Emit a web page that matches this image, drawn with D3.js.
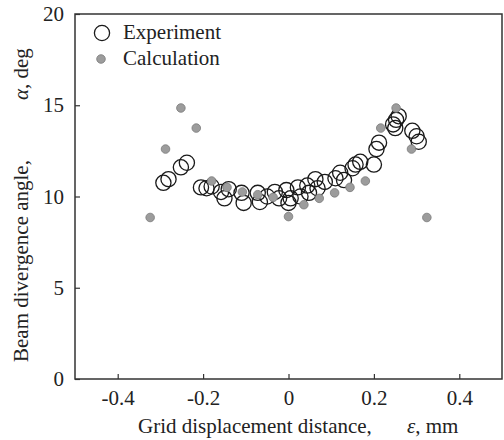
<!DOCTYPE html>
<html>
<head>
<meta charset="utf-8">
<script src="https://cdn.jsdelivr.net/npm/d3@7"></script>
<style>
  html, body { margin: 0; padding: 0; background: #fff; }
  svg { display: block; }
</style>
</head>
<body>
<svg id="chart" width="504" height="440"></svg>
<script>
// Measured beam divergence (open circles): [displacement mm, angle deg]
const experiment = [
  [-0.293, 10.75], [-0.281, 10.95], [-0.252, 11.6], [-0.238, 11.85],
  [-0.205, 10.5], [-0.192, 10.45], [-0.180, 10.55],
  [-0.158, 10.25], [-0.150, 9.9], [-0.140, 10.4],
  [-0.110, 10.2], [-0.105, 9.65],
  [-0.072, 10.2], [-0.067, 9.7], [-0.050, 10.0],
  [-0.032, 10.25], [-0.022, 9.9],
  [-0.005, 10.35], [0.000, 9.65], [0.005, 9.9],
  [0.022, 10.5], [0.028, 10.0],
  [0.044, 10.6], [0.048, 10.2],
  [0.063, 10.95], [0.068, 10.45], [0.085, 10.8],
  [0.110, 11.0], [0.121, 11.3], [0.130, 10.9],
  [0.150, 11.55], [0.157, 11.75], [0.168, 11.9],
  [0.200, 11.75], [0.206, 12.6], [0.212, 12.95],
  [0.245, 13.95], [0.252, 14.2], [0.258, 14.4], [0.250, 13.75],
  [0.290, 13.6], [0.300, 13.3], [0.305, 13.0]
];

// Computed divergence (grey dots)
const calculation = [
  [-0.324, 8.85], [-0.288, 12.6], [-0.252, 14.85], [-0.216, 13.75],
  [-0.180, 10.85], [-0.144, 10.5], [-0.108, 10.25], [-0.072, 10.1],
  [-0.036, 9.95], [0.000, 8.9], [0.036, 9.55], [0.072, 9.9],
  [0.108, 10.2], [0.144, 10.5], [0.180, 10.85], [0.216, 13.75],
  [0.252, 14.85], [0.288, 12.6], [0.324, 8.85]
];

const xTicks = [-0.4, -0.2, 0, 0.2, 0.4];
const yTicks = [0, 5, 10, 15, 20];
const legendLabels = ["Experiment", "Calculation"];

const svg = d3.select("#chart");
const plotLeft = 75, plotRight = 502, plotTop = 14, plotBottom = 379;
const serif = '"Liberation Serif", "Times New Roman", serif';
const fs = 21;

const x = d3.scaleLinear().domain([-0.5, 0.5]).range([plotLeft, plotRight]);
const y = d3.scaleLinear().domain([0, 20]).range([plotBottom, plotTop]);

// frame
svg.append("rect")
  .attr("x", plotLeft).attr("y", plotTop)
  .attr("width", plotRight - plotLeft).attr("height", plotBottom - plotTop)
  .attr("fill", "none").attr("stroke", "#333").attr("stroke-width", 1.5);

// axes with inward ticks
const xAxis = svg.append("g").attr("transform", `translate(0,${plotBottom})`)
  .call(d3.axisBottom(x).tickValues(xTicks).tickSizeInner(-5).tickSizeOuter(0)
    .tickPadding(11).tickFormat(d => d === 0 ? "0" : d.toFixed(1)));
const yAxis = svg.append("g").attr("transform", `translate(${plotLeft},0)`)
  .call(d3.axisLeft(y).tickValues(yTicks).tickSizeInner(-5).tickSizeOuter(0)
    .tickPadding(11).tickFormat(d => String(d)));

[xAxis, yAxis].forEach(a => {
  a.select(".domain").remove();
  a.selectAll(".tick line").attr("stroke", "#333").attr("stroke-width", 1.2);
  a.selectAll(".tick text").style("font-size", fs + "px")
    .style("font-family", serif).attr("fill", "#222");
});

// data marks
svg.append("g").selectAll("circle").data(experiment).join("circle")
  .attr("cx", d => x(d[0])).attr("cy", d => y(d[1])).attr("r", 7.6)
  .attr("fill", "none").attr("stroke", "#1a1a1a").attr("stroke-width", 1.3);

svg.append("g").selectAll("circle").data(calculation).join("circle")
  .attr("cx", d => x(d[0])).attr("cy", d => y(d[1])).attr("r", 4.3)
  .attr("fill", "#9c9c9c").attr("stroke", "#7a7a7a").attr("stroke-width", 0.8);

// helper for text in the serif face
function label(sel) {
  return sel.append("text").style("font-family", serif)
    .style("font-size", fs + "px").attr("fill", "#222");
}

// legend
const lg = svg.append("g");
lg.append("circle").attr("cx", 102).attr("cy", 33).attr("r", 7.6)
  .attr("fill", "none").attr("stroke", "#1a1a1a").attr("stroke-width", 1.3);
lg.append("circle").attr("cx", 101).attr("cy", 59).attr("r", 4.3)
  .attr("fill", "#9c9c9c").attr("stroke", "#7a7a7a").attr("stroke-width", 0.8);
legendLabels.forEach((t, i) => {
  label(lg).attr("x", 123).attr("y", 39 + i * 26).text(t);
});

// x axis title
label(svg).attr("x", 138).attr("y", 433).text("Grid displacement distance,");
const xu = label(svg).attr("x", 407).attr("y", 433);
xu.append("tspan").style("font-style", "italic").text("ε");
xu.append("tspan").text(", mm");

// y axis title
label(svg).attr("transform", "translate(28,362) rotate(-90)").text("Beam divergence angle,");
const yu = label(svg).attr("transform", "translate(28,100) rotate(-90)");
yu.append("tspan").style("font-style", "italic").text("α");
yu.append("tspan").text(", deg");
</script>
</body>
</html>
